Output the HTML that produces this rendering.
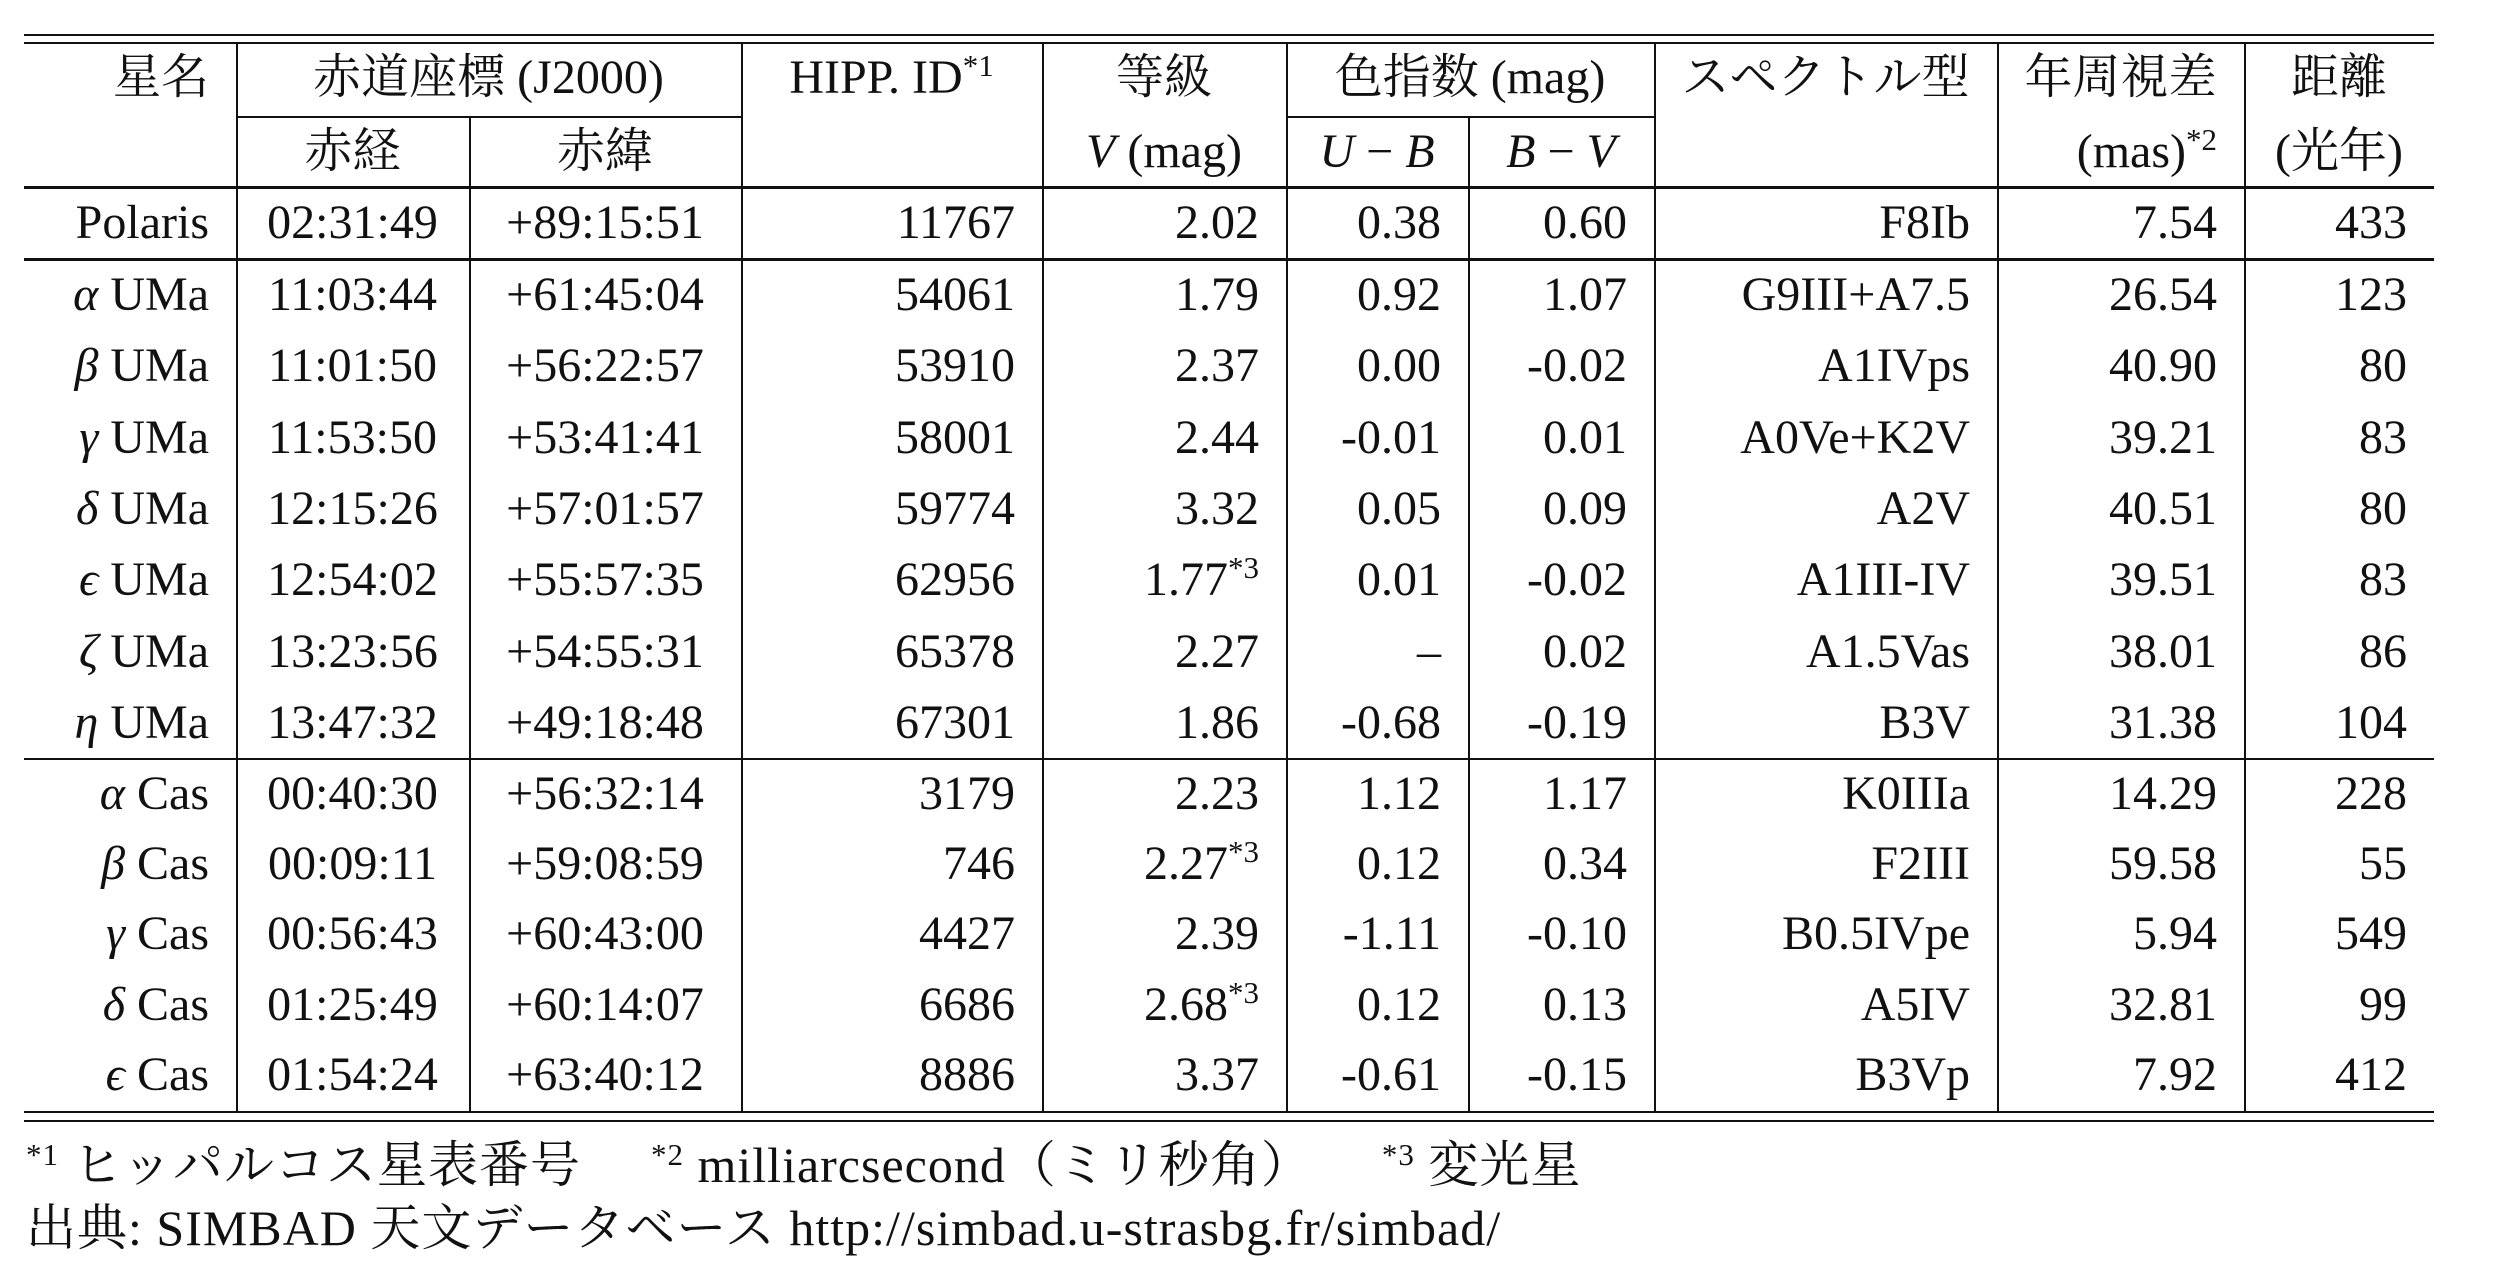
<!DOCTYPE html>
<html><head><meta charset="utf-8">
<style>
html,body{margin:0;padding:0;background:#fff;}
#wrap{position:relative;width:2512px;height:1276px;overflow:hidden;background:#fff;
font-family:"Liberation Serif","Noto Serif CJK SC","Noto Sans CJK JP",serif;color:#111;font-size:48px;}
.c{position:absolute;height:60px;line-height:60px;white-space:nowrap;}
.h{position:absolute;background:#111;}
sup{font-size:31px;vertical-align:0;position:relative;top:-17px;}
i{font-style:italic;}
.fn{position:absolute;left:26px;white-space:nowrap;font-size:50px;height:64px;line-height:64px;letter-spacing:1px;}
.gap{display:inline-block;width:70px;}
</style></head>
<body>
<div id="wrap">
<div class="fn" style="top:1133px"><sup>*1</sup> ヒッパルコス星表番号<span class="gap"></span><sup>*2</sup> milliarcsecond（ミリ秒角）<span class="gap"></span><sup>*3</sup> 変光星</div>
<div class="fn" style="top:1196px">出典: SIMBAD 天文データベース http://simbad.u-strasbg.fr/simbad/</div>
</div>
<script>
const names=['Polaris','<i>α</i> UMa','<i>β</i> UMa','<i>γ</i> UMa','<i>δ</i> UMa','<i>ϵ</i> UMa','<i>ζ</i> UMa','<i>η</i> UMa','<i>α</i> Cas','<i>β</i> Cas','<i>γ</i> Cas','<i>δ</i> Cas','<i>ϵ</i> Cas'];
const ra=['02:31:49','11:03:44','11:01:50','11:53:50','12:15:26','12:54:02','13:23:56','13:47:32','00:40:30','00:09:11','00:56:43','01:25:49','01:54:24'];
const dec=['+89:15:51','+61:45:04','+56:22:57','+53:41:41','+57:01:57','+55:57:35','+54:55:31','+49:18:48','+56:32:14','+59:08:59','+60:43:00','+60:14:07','+63:40:12'];
const hip=['11767','54061','53910','58001','59774','62956','65378','67301','3179','746','4427','6686','8886'];
const vmag=['2.02','1.79','2.37','2.44','3.32','1.77<sup>*3</sup>','2.27','1.86','2.23','2.27<sup>*3</sup>','2.39','2.68<sup>*3</sup>','3.37'];
const ub=['0.38','0.92','0.00','-0.01','0.05','0.01','–','-0.68','1.12','0.12','-1.11','0.12','-0.61'];
const bv=['0.60','1.07','-0.02','0.01','0.09','-0.02','0.02','-0.19','1.17','0.34','-0.10','0.13','-0.15'];
const spec=['F8Ib','G9III+A7.5','A1IVps','A0Ve+K2V','A2V','A1III-IV','A1.5Vas','B3V','K0IIIa','F2III','B0.5IVpe','A5IV','B3Vp'];
const plx=['7.54','26.54','40.90','39.21','40.51','39.51','38.01','31.38','14.29','59.58','5.94','32.81','7.92'];
const dist=['433','123','80','83','80','83','86','104','228','55','549','99','412'];

const W=document.getElementById('wrap');
const L=24,R=2434;
const vx=[L,236,469,741,1042,1286,1468,1654,1997,2244,R];
const cols=[names,ra,dec,hip,vmag,ub,bv,spec,plx,dist];
const colNames=['star-name','right-ascension','declination','hipp-id','v-mag','u-b','b-v','spectral-type','parallax','distance'];
const align=['r','c','c','r','r','r','r','r','r','r'];
function rowY(i){ if(i===0) return 223; if(i<=7) return 295+(i-1)*71.3; return 794+(i-8)*70.2; }
function line(x,y,w,h,n){const d=document.createElement('div');d.className='h';
d.style.left=x+'px';d.style.top=y+'px';d.style.width=w+'px';d.style.height=h+'px';


W.appendChild(d);}
function cell(html,ci,y,al,n){const d=document.createElement('div');d.className='c';
const x0=vx[ci],x1=vx[ci+1];d.style.top=(y-30)+'px';d.innerHTML=html;
if(al==='r'){d.style.right=(2512-x1+27)+'px';}
else if(al==='l'){d.style.left=(x0+27)+'px';}
else {d.style.left=x0+'px';d.style.width=(x1-x0)+'px';d.style.textAlign='center';}


W.appendChild(d);return d;}
function span(html,c0,c1,y,n){const d=document.createElement('div');d.className='c';
d.style.left=vx[c0]+'px';d.style.width=(vx[c1]-vx[c0])+'px';d.style.textAlign='center';d.style.top=(y-30)+'px';d.innerHTML=html;


W.appendChild(d);}
line(L,34,R-L,2,'top-rule-1');line(L,42,R-L,2,'top-rule-2');
line(vx[1],116,vx[3]-vx[1],2,'coord-subrule');line(vx[5],116,vx[7]-vx[5],2,'color-subrule');
line(L,186,R-L,3,'header-rule');line(L,258,R-L,3,'polaris-rule');line(L,758,R-L,2,'uma-rule');
line(L,1111,R-L,2,'bottom-rule-1');line(L,1120,R-L,2,'bottom-rule-2');
for(let k=1;k<vx.length-1;k++){
  if(k===2||k===6){ line(vx[k],117,1.5,1111-117,'col-sep-'+k); }
  else line(vx[k],44,1.5,1111-44,'col-sep-'+k);
}
const y1=78,y2=152;
cell('星名',0,y1,'r','header-star-name');
span('赤道座標 (J2000)',1,3,y1,'header-coords');
cell('赤経',1,y2,'c','header-ra');cell('赤緯',2,y2,'c','header-dec');
cell('HIPP. ID<sup>*1</sup>',3,y1,'c','header-hipp');
cell('等級',4,y1,'c','header-mag');cell('<i>V</i> (mag)',4,y2,'c','header-v');
span('色指数 (mag)',5,7,y1,'header-color-index');
cell('<i>U</i> − <i>B</i>',5,y2,'c','header-u-b');cell('<i>B</i> − <i>V</i>',6,y2,'c','header-b-v');
cell('スペクトル型',7,y1,'c','header-spectral');
cell('年周視差',8,y1,'c','header-parallax');cell('(mas)<sup>*2</sup>',8,y2,'r','header-mas');
cell('距離',9,y1,'c','header-distance');cell('(光年)',9,y2,'c','header-ly');
for(let i=0;i<names.length;i++){
  const y=rowY(i);
  for(let c=0;c<cols.length;c++){
    cell(cols[c][i],c,y,align[c],colNames[c]+'-'+i);
  }
}
</script>
</body></html>
